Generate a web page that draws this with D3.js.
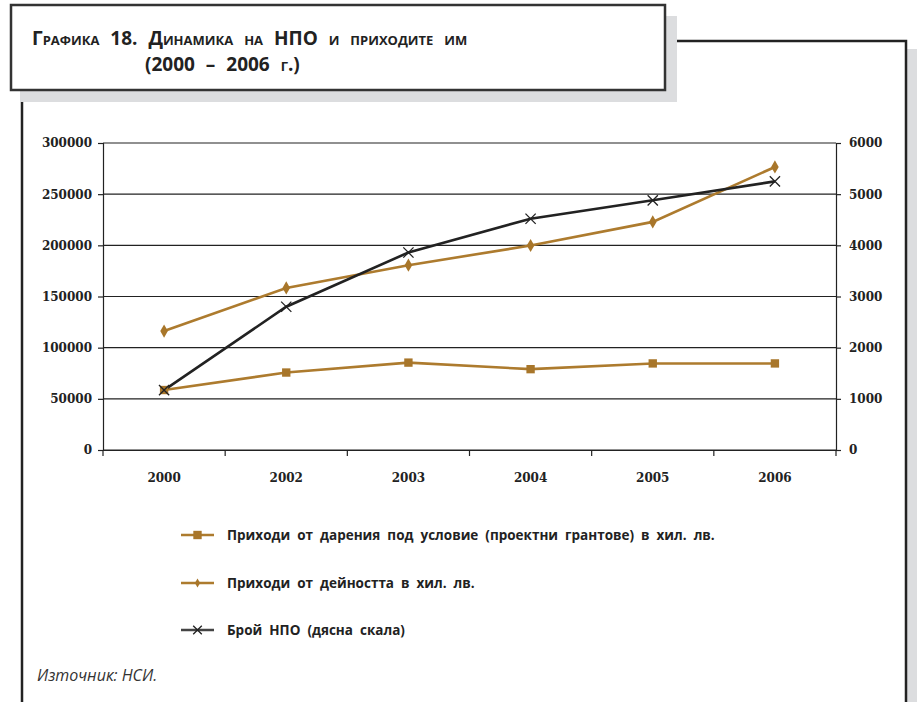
<!DOCTYPE html>
<html>
<head>
<meta charset="utf-8">
<script src="https://cdn.jsdelivr.net/npm/d3@7"></script>
<style>
    body { margin: 0; background: #fff; }
    svg { display: block; }
</style>
</head>
<body>
<div id="chart"></div>
<script>
// data
const years = ['2000', '2002', '2003', '2004', '2005', '2006'];
const grants = [58600, 75700, 85400, 79000, 84600, 84600];        // приходи от дарения под условие
const activity = [116200, 158400, 180600, 199800, 222900, 276600]; // приходи от дейността
const ngoCount = [1170, 2800, 3860, 4520, 4880, 5250];             // брой НПО (дясна скала)
const leftTicks = [0, 50000, 100000, 150000, 200000, 250000, 300000];
const rightTicks = [0, 1000, 2000, 3000, 4000, 5000, 6000];
const legendLabels = [
    'Приходи от дарения под условие (проектни грантове) в хил. лв.',
    'Приходи от дейността в хил. лв.',
    'Брой НПО (дясна скала)'
];

const width = 917;
const height = 702;
const brown = '#ad7b2e';
const dark = '#222';

const svg = d3.select('#chart')
    .append('svg')
    .attr('width', width)
    .attr('height', height);

// frame and title box
svg.append('rect').attr('x', 907).attr('y', 49).attr('width', 10).attr('height', height - 49).attr('fill', '#dcdddf');
svg.append('path')
    .attr('d', 'M677,41 H906 V702 M22,102 V702')
    .attr('fill', 'none')
    .attr('stroke', dark)
    .attr('stroke-width', 2.5);
svg.append('rect').attr('x', 20).attr('y', 16).attr('width', 657).attr('height', 86).attr('fill', '#dcdddf');
svg.append('rect')
    .attr('x', 11).attr('y', 5).attr('width', 654).attr('height', 85)
    .attr('fill', '#fff')
    .attr('stroke', '#333')
    .attr('stroke-width', 2.5);

const titleFont = "'Open Sans', sans-serif";
[['Графика 18. Динамика на НПО и приходите им', 32, 44.5], ['(2000 – 2006 г.)', 145, 71]].forEach(t => {
    svg.append('text')
        .attr('x', t[1]).attr('y', t[2])
        .style('font-family', titleFont)
        .style('font-weight', 700)
        .style('font-size', '19px')
        .style('word-spacing', '6px')
        .style('font-variant', 'small-caps')
        .attr('fill', '#222')
        .text(t[0]);
});

// plot area
const margin = { top: 143, right: 81, bottom: 252, left: 103 };
const graphWidth = width - margin.left - margin.right;
const graphHeight = height - margin.top - margin.bottom;

const graph = svg.append('g')
    .attr('transform', `translate(${ margin.left }, ${ margin.top })`);

const x = d3.scaleBand()
    .domain(years)
    .range([0, graphWidth])
    .paddingInner(0)
    .paddingOuter(0);
const yLeft = d3.scaleLinear().domain([0, 300000]).range([graphHeight, 0]);
const yRight = d3.scaleLinear().domain([0, 6000]).range([graphHeight, 0]);
const cx = d => x(d) + x.bandwidth() / 2;

// gridlines
graph.append('g')
    .selectAll('line')
    .data(leftTicks)
    .enter()
    .append('line')
    .attr('x1', 0)
    .attr('x2', graphWidth)
    .attr('y1', d => yLeft(d))
    .attr('y2', d => yLeft(d))
    .attr('stroke', dark)
    .attr('stroke-width', 1.2);

const tickText = "'DejaVu Serif', serif";

const yAxisGroup = graph.append('g')
    .call(d3.axisLeft(yLeft).tickValues(leftTicks).tickSize(5).tickPadding(6).tickFormat(d3.format('d')));
const yRightGroup = graph.append('g')
    .attr('transform', `translate(${ graphWidth }, 0)`)
    .call(d3.axisRight(yRight).tickValues(rightTicks).tickSize(5).tickPadding(8).tickFormat(d3.format('d')));

// x axis: labels centred in bands, ticks on band edges
const xAxisGroup = graph.append('g')
    .attr('transform', `translate(0, ${ graphHeight })`)
    .call(d3.axisBottom(x).tickSize(0).tickPadding(23));
xAxisGroup.selectAll('line.edge')
    .data(years.map(d => x(d)).concat([graphWidth]))
    .enter()
    .append('line')
    .attr('class', 'edge')
    .attr('x1', d => d).attr('x2', d => d)
    .attr('y1', 0).attr('y2', 6)
    .attr('stroke', dark)
    .attr('stroke-width', 1.2);

[yAxisGroup, yRightGroup, xAxisGroup].forEach(g => {
    g.selectAll('path.domain').attr('stroke', dark).attr('stroke-width', 1.2);
    g.selectAll('.tick line').attr('stroke', dark).attr('stroke-width', 1.2);
    g.selectAll('text')
        .attr('fill', '#222')
        .style('font-family', tickText)
        .style('font-weight', 700)
        .style('font-size', '12px');
});

// lines
const lineLeft = vals => d3.line()
    .x((d, i) => cx(years[i]))
    .y(d => yLeft(d))(vals);
const lineRight = d3.line()
    .x((d, i) => cx(years[i]))
    .y(d => yRight(d));

graph.append('path')
    .attr('d', lineLeft(grants))
    .attr('fill', 'none').attr('stroke', brown).attr('stroke-width', 2.6);
graph.append('path')
    .attr('d', lineLeft(activity))
    .attr('fill', 'none').attr('stroke', brown).attr('stroke-width', 2.6);
graph.append('path')
    .attr('d', lineRight(ngoCount))
    .attr('fill', 'none').attr('stroke', dark).attr('stroke-width', 2.6);

const squareSym = d3.symbol().type(d3.symbolSquare).size(70);
const diamondSym = d3.symbol().type(d3.symbolDiamond).size(50);
const crossSym = d3.symbol().type(d3.symbolX).size(70);

graph.selectAll('path.sq')
    .data(grants)
    .enter()
    .append('path')
    .attr('class', 'sq')
    .attr('d', squareSym)
    .attr('transform', (d, i) => `translate(${ cx(years[i]) }, ${ yLeft(d) })`)
    .attr('fill', '#a8762a');
graph.selectAll('path.dm')
    .data(activity)
    .enter()
    .append('path')
    .attr('class', 'dm')
    .attr('d', diamondSym)
    .attr('transform', (d, i) => `translate(${ cx(years[i]) }, ${ yLeft(d) })`)
    .attr('fill', '#a8762a');
graph.selectAll('path.cr')
    .data(ngoCount)
    .enter()
    .append('path')
    .attr('class', 'cr')
    .attr('d', crossSym)
    .attr('transform', (d, i) => `translate(${ cx(years[i]) }, ${ yRight(d) })`)
    .attr('fill', 'none')
    .attr('stroke', dark)
    .attr('stroke-width', 1.3);

// legend
const legendRows = [535, 583, 630];
const legendSyms = [
    { sym: squareSym, color: '#a8762a', line: brown, stroke: false },
    { sym: d3.symbol().type(d3.symbolDiamond).size(24), color: '#a8762a', line: brown, stroke: false },
    { sym: d3.symbol().type(d3.symbolX).size(50), color: dark, line: '#444', stroke: true }
];
const legend = svg.append('g');
legendLabels.forEach((label, i) => {
    const row = legend.append('g').attr('transform', `translate(181, ${ legendRows[i] })`);
    row.append('line')
        .attr('x1', 0).attr('x2', 33)
        .attr('stroke', legendSyms[i].line)
        .attr('stroke-width', 2.6);
    row.append('path')
        .attr('d', legendSyms[i].sym)
        .attr('transform', 'translate(16.5, 0)')
        .attr('fill', legendSyms[i].stroke ? 'none' : legendSyms[i].color)
        .attr('stroke', legendSyms[i].stroke ? legendSyms[i].color : 'none')
        .attr('stroke-width', 1.3);
    row.append('text')
        .attr('x', 46).attr('y', 5)
        .style('font-family', titleFont)
        .style('font-weight', 700)
        .style('font-size', '13.5px')
        .style('word-spacing', '3.5px')
        .attr('fill', '#222')
        .text(label);
});

svg.append('text')
    .attr('x', 37).attr('y', 681)
    .style('font-family', "'Open Sans', sans-serif")
    .style('font-style', 'italic')
    .style('font-size', '16px')
    .attr('fill', '#333')
    .text('Източник: НСИ.');
</script>
</body>
</html>
